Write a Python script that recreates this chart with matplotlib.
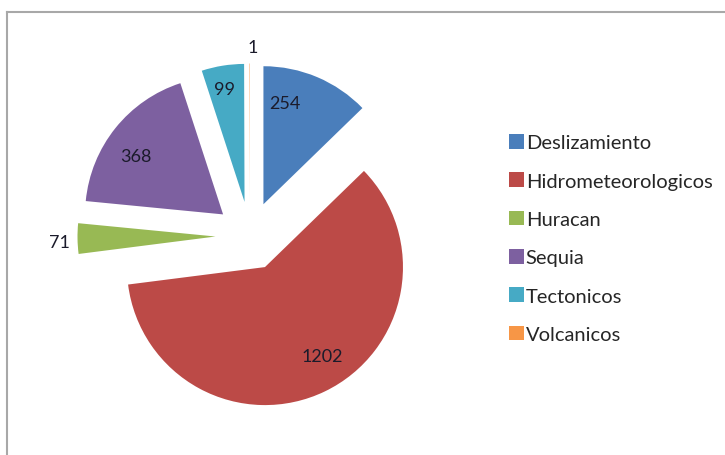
import numpy as np
import matplotlib.pyplot as plt
from matplotlib.lines import Line2D

# data
categories = ['Deslizamiento', 'Hidrometeorologicos', 'Huracan', 'Sequia', 'Tectonicos', 'Volcanicos']
values = [254, 1202, 71, 368, 99, 1]
colors = ['#4A7EBB', '#BC4A47', '#98B954', '#7D60A0', '#46AAC5', '#F79646']

# label placement (distance from slice tip, in radii, and angle shift in degrees)
label_dist = [0.75, 0.77, 1.13, 0.76, 0.83, 1.12]
label_shift = [11, 7, 1, 5, 1, -1]

plt.rcParams['font.family'] = ['Lato', 'DejaVu Sans']

fig = plt.figure(figsize=(7.25, 4.56), dpi=100)
# pie centre near (250, 237) px, radius 138 px
R = 138
half = 1.6 * R
ax = fig.add_axes([(250 - half) / 725, (456 - 237 - half) / 456, 2 * half / 725, 2 * half / 456])

wedges, _ = ax.pie(values, colors=colors, startangle=90, counterclock=False,
                   explode=[0.25] * len(values), radius=1,
                   wedgeprops=dict(linewidth=0))
ax.set_xlim(-1.6, 1.6)
ax.set_ylim(-1.6, 1.6)
ax.set_aspect('equal')
ax.axis('off')

for w, v, d, s in zip(wedges, values, label_dist, label_shift):
    ang = np.deg2rad((w.theta1 + w.theta2) / 2 + s)
    cx, cy = w.center
    ax.text(cx + d * np.cos(ang), cy + d * np.sin(ang), str(v),
            ha='center', va='center', fontsize=13, color='#1b1b2b')

leg = fig.legend(wedges, categories, loc='upper left', bbox_to_anchor=(509 / 725, 1 - 135 / 456),
                 frameon=False, fontsize=14.5, handlelength=0.75, handleheight=0.75,
                 handletextpad=0.08, labelspacing=1.04, borderaxespad=0, borderpad=0)
for t in leg.get_texts():
    t.set_color('#262626')

# chart frame (top and left edges visible)
fig.add_artist(Line2D([7 / 725, 7 / 725], [0, 1 - 12.5 / 456], transform=fig.transFigure,
                      color='#A8A8A8', lw=1.5))
fig.add_artist(Line2D([7 / 725, 1], [1 - 12.5 / 456, 1 - 12.5 / 456], transform=fig.transFigure,
                      color='#A8A8A8', lw=1.5))

fig.savefig('out.png', dpi=100)
